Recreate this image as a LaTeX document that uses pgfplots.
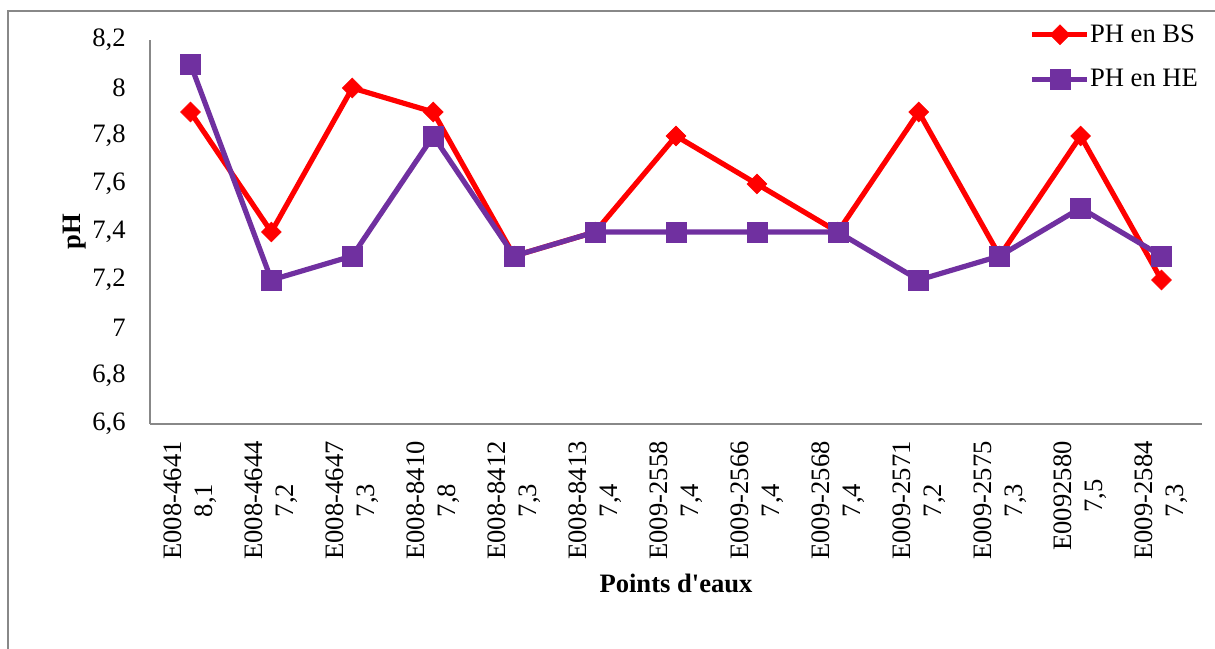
\documentclass[border=0pt]{standalone}
\usepackage{fontspec}
\setmainfont{Liberation Serif}
\usepackage{pgfplots}
\pgfplotsset{compat=1.18}
\definecolor{bsred}{HTML}{FF0000}
\definecolor{hepurple}{HTML}{7030A0}
\definecolor{axgray}{HTML}{888888}
\newcommand{\cf}{\fontsize{13.3}{15.5}\selectfont}
\begin{document}
\begin{tikzpicture}
\useasboundingbox (0pt,0pt) rectangle (607.5pt,324pt);
\draw[axgray, line width=1pt] (4pt,-5pt) -- (4pt,318.5pt) -- (612pt,318.5pt);
\begin{axis}[
  at={(75pt,112pt)}, anchor=south west, scale only axis,
  width=526pt, height=192pt,
  xmin=-0.5, xmax=12.5, ymin=6.6, ymax=8.2,
  ytick={6.6,6.8,7,7.2,7.4,7.6,7.8,8,8.2},
  xtick={0,1,2,3,4,5,6,7,8,9,10,11,12},
  xticklabels={{E008-4641\\8,1},{E008-4644\\7,2},{E008-4647\\7,3},{E008-8410\\7,8},{E008-8412\\7,3},{E008-8413\\7,4},{E009-2558\\7,4},{E009-2566\\7,4},{E009-2568\\7,4},{E009-2571\\7,2},{E009-2575\\7,3},{E0092580\\7,5},{E009-2584\\7,3}},
  axis x line*=bottom, axis y line*=left,
  axis line style={axgray, line width=0.7pt},
  major tick length=0pt, tick style={draw=none},
  /pgf/number format/.cd, use comma, fixed, precision=1, assume math mode=true,
  /pgfplots/.cd,
  tick label style={font=\cf},
  yticklabel style={anchor=east, inner sep=0pt, xshift=-12pt},
  xticklabel style={rotate=90, anchor=east, align=center, inner sep=0pt},
  xticklabel shift=8.5pt,
  ylabel={pH},
  ylabel style={at={(axis description cs:-0.0713,0.5)}, anchor=center, font=\bfseries\cf},
  xlabel={Points d\textquotesingle eaux},
  xlabel style={at={(axis description cs:0.5,-0.414)}, anchor=center, font=\bfseries\cf},
  legend style={draw=none, fill=none, at={(axis description cs:0.836,1.052)}, anchor=north west, font=\cf, inner sep=0pt, row sep=8pt, cells={anchor=west}, nodes={inner xsep=2pt}, /tikz/every odd column/.append style={column sep=-2pt}},
  legend image code/.code={\draw[mark repeat=2,mark phase=2] plot coordinates {(0pt,0pt)(13.75pt,0pt)(27.5pt,0pt)};},
]
\addplot[color=bsred, line width=2.6pt, mark=square*, mark size=3.5pt, mark options={rotate=45, line width=0.3pt, fill=bsred}] coordinates {
(0,7.9) (1,7.4) (2,8.0) (3,7.9) (4,7.3) (5,7.4) (6,7.8) (7,7.6) (8,7.4) (9,7.9) (10,7.3) (11,7.8) (12,7.2)};
\addlegendentry{PH en BS}
\addplot[color=hepurple, line width=2.6pt, mark=square*, mark size=5pt, mark options={line width=0.3pt, fill=hepurple}] coordinates {
(0,8.1) (1,7.2) (2,7.3) (3,7.8) (4,7.3) (5,7.4) (6,7.4) (7,7.4) (8,7.4) (9,7.2) (10,7.3) (11,7.5) (12,7.3)};
\addlegendentry{PH en HE}
\end{axis}
\end{tikzpicture}
\end{document}
